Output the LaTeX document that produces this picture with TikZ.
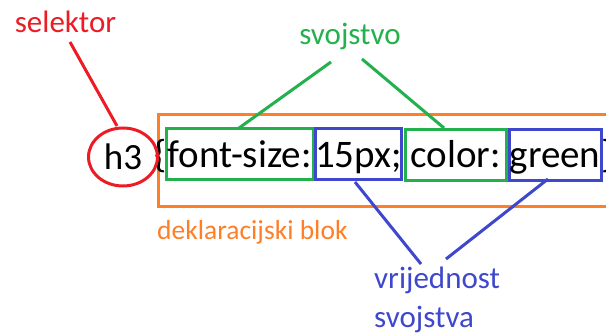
\documentclass[tikz,border=0pt]{standalone}
\usepackage{fontspec}
\setmainfont{Carlito}
\usetikzlibrary{shapes.geometric}
\definecolor{cred}{RGB}{237,28,36}
\definecolor{cgreen}{RGB}{34,177,76}
\definecolor{cblue}{RGB}{63,72,204}
\definecolor{corange}{RGB}{255,127,39}
\tikzset{
  code/.style={font=\fontsize{39}{44}\selectfont, text=black, inner sep=0pt, text height=35pt, text depth=9pt},
  gbox/.style={draw=cgreen, line width=3pt, minimum height=51pt, code},
  bbox/.style={draw=cblue, line width=3pt, minimum height=51pt, code},
  lbl/.style={font=\fontsize{31}{36}\selectfont, inner sep=0pt},
  gline/.style={cgreen, line width=3pt},
  bline/.style={cblue, line width=3pt},
  rline/.style={cred, line width=3pt},
}
\begin{document}
\begin{tikzpicture}[x=1pt,y=-1pt]
\clip (0,0) rectangle (606,334);
\fill[white] (0,0) rectangle (606,334);
% orange declaration block
\node[draw=corange, line width=3pt, minimum width=480pt, minimum height=92pt, inner sep=0pt, anchor=north west] (blok) at (157,113) {};
% code pieces
\node[gbox, minimum width=147pt] (fs) at (239.5,154.5) {font-size:};
\node[bbox, minimum width=85pt] (px) at (358.5,154.5) {15px;};
\node[gbox, minimum width=101pt] (col) at (455.5,155) {color:};
\node[bbox, minimum width=92pt] (grn) at (555,155) {green};
\node[code, anchor=base] (ob) at (161,168) {\{};
\node[code, anchor=base west] (cb) at (601.5,168) {\}};
\node[draw=cred, line width=3pt, ellipse, minimum width=69pt, minimum height=58pt, inner sep=0pt, font=\fontsize{37}{42}\selectfont, text height=26pt, text depth=0pt] (sel) at (123,157) {h3};
% labels
\node[lbl, text=cred, anchor=base] (tsel) at (65.5,33) {selektor};
\node[lbl, text=cgreen, anchor=base] (tsv) at (350,45) {svojstvo};
\node[lbl, text=corange, anchor=base west, font=\fontsize{27.5}{32}\selectfont] (tdb) at (157,240) {deklaracijski blok};
\node[lbl, text=cblue, anchor=base west] (tvr) at (374,289) {vrijednost};
\node[lbl, text=cblue, anchor=base west] (tsj) at (374,327) {svojstva};
% connectors
\coordinate (r1) at (70,42);
\coordinate (r2) at (117,126);
\draw[rline] (r1) -- (r2);
\coordinate (g1) at (331,62);
\coordinate (g2) at (239,128);
\coordinate (g3) at (362,59);
\coordinate (g4) at (444,128);
\draw[gline] (g1) -- (g2);
\draw[gline] (g3) -- (g4);
\coordinate (b1) at (355,182);
\coordinate (b2) at (421,264);
\coordinate (b3) at (548,179);
\coordinate (b4) at (446,259);
\draw[bline] (b1) -- (b2);
\draw[bline] (b3) -- (b4);
\end{tikzpicture}
\end{document}
